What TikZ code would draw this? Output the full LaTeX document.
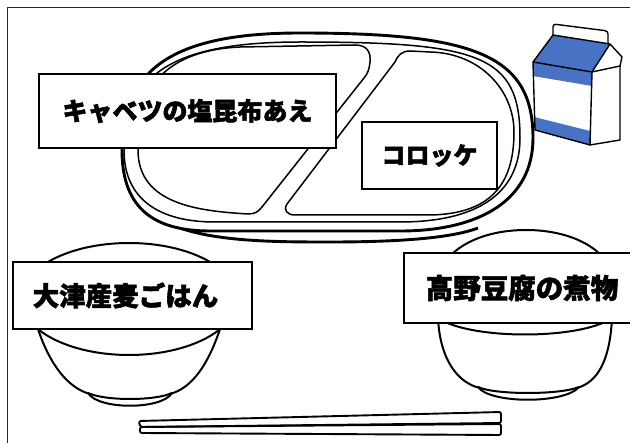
\documentclass[tikz,border=0pt]{standalone}
\usepackage{fontspec}
\newfontfamily\jpfont{Noto Sans CJK JP}[BoldFeatures={FakeBold=2}]
\definecolor{milkblue}{RGB}{72,114,196}
\definecolor{framegray}{RGB}{40,40,40}
\tikzset{
  rimthick/.style={line width=2.9pt, line join=round},
  rimthin/.style={line width=1.5pt, line join=round},
  bowlline/.style={line width=2pt, line cap=round},
  cartonline/.style={line width=1.4pt, line join=round},
  stickline/.style={line width=1.9pt, line join=round, rounded corners=2pt},
  menubox/.style={draw=black, line width=1.1pt, fill=white, inner sep=0pt, outer sep=0pt},
  menufont/.style={font=\jpfont\bfseries\fontsize{#1}{#1}\selectfont},
}
\begin{document}
\begin{tikzpicture}[x=1pt, y=-1pt]
\useasboundingbox (0,0) rectangle (630,443);
\begin{scope}
\clip (0,0) rectangle (630,443);

% page frame (left and top edges)
\draw[framegray, line width=1.5pt] (7.5,443) -- (7.5,7.5) -- (630,7.5);

% ---- lunch tray ----
% base edge under the tray
\draw[rimthick] (180,228) .. controls (220,242) and (280,242) .. (330,242)
  .. controls (400,242) and (452,238) .. (478,228);
% outer rim
\draw[rimthick, fill=white] (122,150) .. controls (122,68) and (175,33) .. (300,33)
  .. controls (475,33) and (533,55) .. (533,138)
  .. controls (533,200) and (480,231) .. (400,231) -- (210,231)
  .. controls (150,231) and (122,205) .. (122,150) -- cycle;
% inner rim
\draw[rimthin] (124,150) .. controls (124,72) and (178,42) .. (300,42)
  .. controls (480,42) and (520,55) .. (520,138)
  .. controls (520,195) and (475,222) .. (400,222) -- (215,222)
  .. controls (160,222) and (124,200) .. (124,150) -- cycle;
% left compartment
\draw[rimthin] (138,140) .. controls (138,80) and (175,50) .. (240,47) -- (355,45)
  .. controls (367,45) and (371,52) .. (370,62)
  .. controls (369,70) and (368,73) .. (364,78) -- (262,207)
  .. controls (258,212) and (255,214) .. (248,214)
  .. controls (200,211) and (138,205) .. (138,150) -- cycle;
% right compartment
\draw[rimthin] (395,62) .. controls (398,55) and (402,51) .. (410,51) -- (430,52)
  .. controls (480,53) and (514,90) .. (514,132)
  .. controls (514,185) and (490,214) .. (430,215) -- (295,215)
  .. controls (287,215) and (283,210) .. (287,204) -- cycle;

% ---- milk carton ----
\fill[milkblue] (533,62) -- (553,35) -- (610,44) -- (592,72) -- cycle;
\fill[milkblue] (533,62) -- (592,72) -- (592,86) -- (533,76) -- cycle;
\fill[milkblue] (534,117) -- (590,131) -- (590,145) -- (535,130) -- cycle;
\draw[cartonline, rounded corners=3pt] (553,35) -- (553,24) -- (608,31) -- (608,44);
\draw[cartonline] (533,62) -- (553,35) -- (610,44) -- (592,72) -- cycle;
\draw[cartonline] (610,44) -- (622,57) -- (620,66) -- (592,72);
\draw[cartonline] (533,62) -- (535,130) -- (590,145) -- (592,72);
\draw[cartonline] (620,66) -- (620,140) -- (590,145);

% ---- rice bowl (left) ----
\draw[bowlline] (129,299) ellipse [x radius=108pt, y radius=56pt];
\draw[bowlline] (38,329) .. controls (50,365) and (68,388) .. (90,394);
\draw[bowlline] (220,329) .. controls (208,365) and (192,388) .. (170,394);
\draw[bowlline] (88,393) .. controls (105,401) and (155,401) .. (172,393);
\draw[bowlline] (88,393) .. controls (98,410) and (162,410) .. (172,393);

% ---- soup bowl (right) ----
\draw[bowlline] (436,290) .. controls (436,253) and (476,230) .. (526,230)
  .. controls (576,230) and (616,253) .. (616,290);
\draw[bowlline] (438,318) .. controls (470,340) and (580,340) .. (612,318);
\draw[bowlline] (438,318) .. controls (440,360) and (458,383) .. (480,388);
\draw[bowlline] (612,318) .. controls (610,360) and (598,382) .. (577,388);
\draw[bowlline] (478,387) .. controls (495,395) and (560,395) .. (579,387);
\draw[bowlline] (478,387) .. controls (490,404) and (565,404) .. (579,387);

% ---- chopsticks ----
\draw[stickline] (139,421) -- (501,412) -- (501,423) -- (140,427) -- cycle;
\draw[stickline] (140,427) -- (501,424) -- (501,435) -- (140,433) -- cycle;

% ---- menu labels ----
\node[menubox, menufont=25, minimum width=297pt, minimum height=74pt]
  (cabbage) at (187.5,111) {キャベツの塩昆布あえ};
\node[menubox, menufont=24, minimum width=135pt, minimum height=67pt]
  (croquette) at (429.5,155.5) {コロッケ};
\node[menubox, menufont=26.5, minimum width=239pt, minimum height=67pt]
  (rice) at (132.5,295.5) {\kern-14pt 大津産麦ごはん};
\node[menubox, menufont=27.5, minimum width=236pt, minimum height=70pt]
  (tofu) at (522,288) {高野豆腐の煮物};
\end{scope}
\end{tikzpicture}
\end{document}
